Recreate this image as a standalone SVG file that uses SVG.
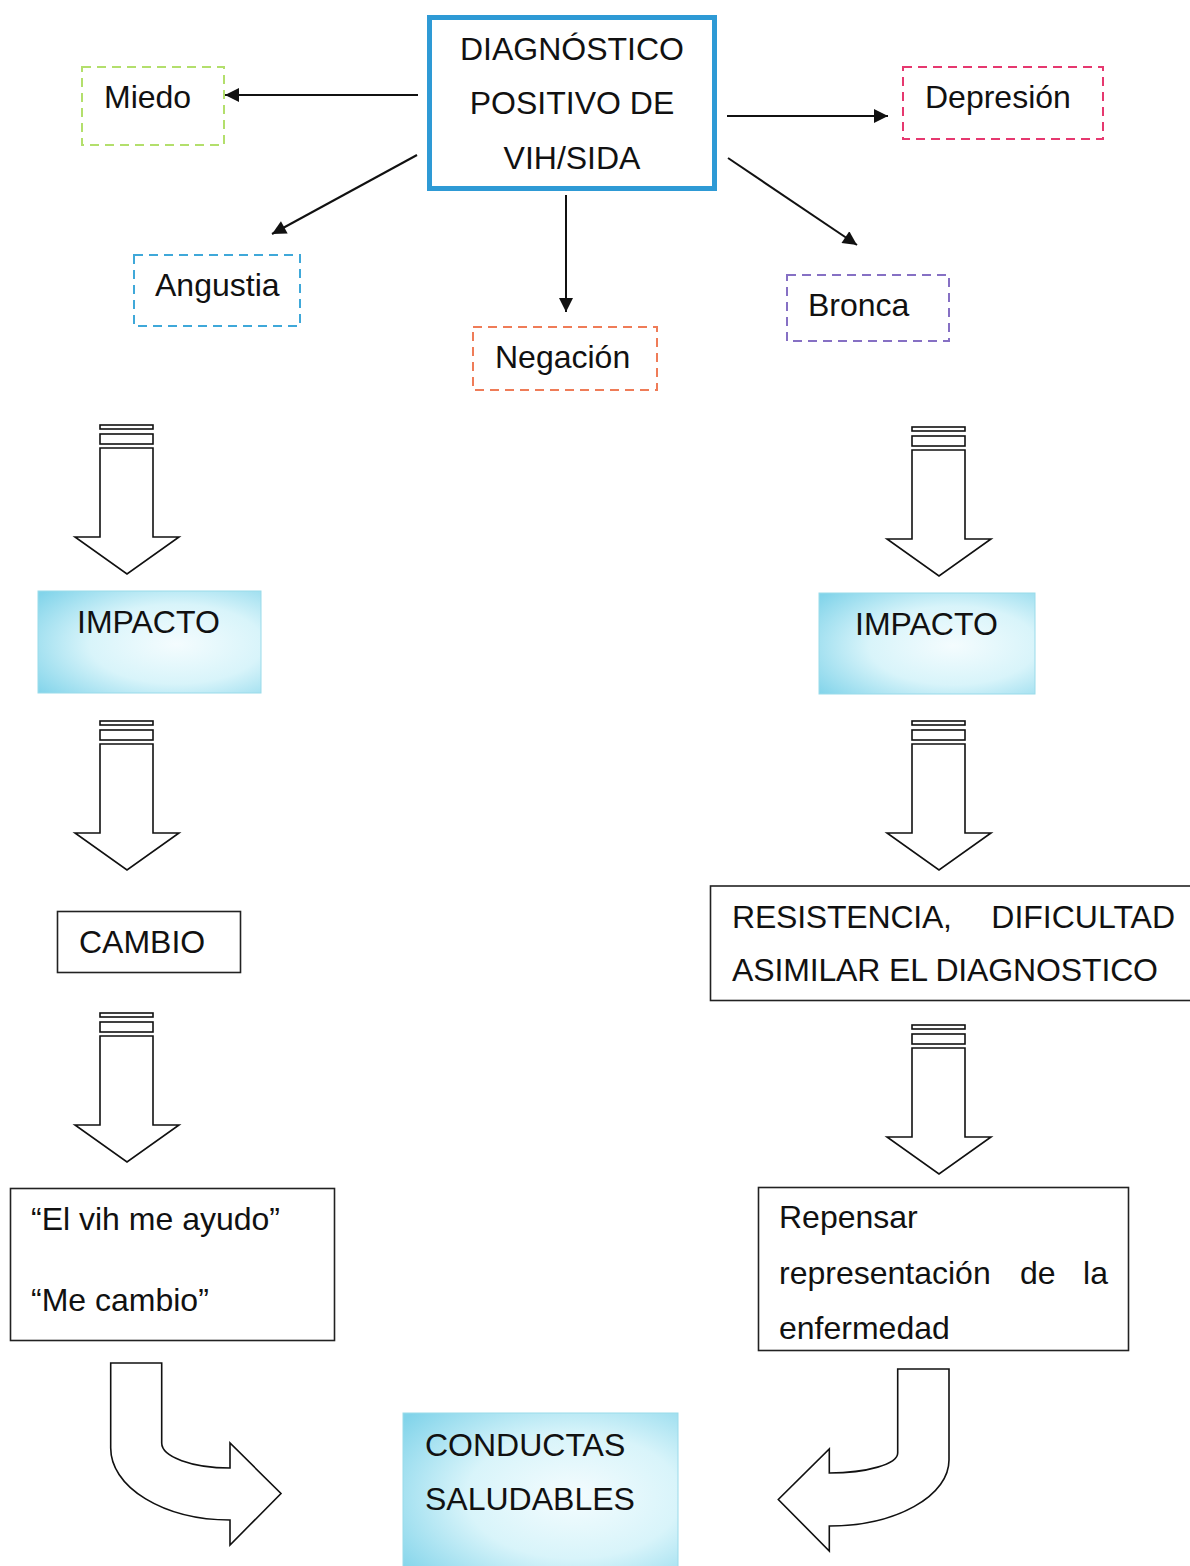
<svg xmlns="http://www.w3.org/2000/svg" xmlns:xlink="http://www.w3.org/1999/xlink" width="1190" height="1566" viewBox="0 0 1190 1566">
<style>
text{font-family:"Liberation Sans",Arial,sans-serif;font-size:32px;fill:#111;}
.c{text-anchor:middle;}
.e{text-anchor:end;}
.dash{fill:#fff;stroke-width:2;stroke-dasharray:9 6;}
.box{fill:#fff;stroke:#222;stroke-width:1.6;}
.grad{fill:url(#cyanGrad);stroke:#9adbea;stroke-width:1;}
.conn{stroke:#111;stroke-width:2;fill:none;marker-end:url(#tri);}
.blk{fill:#fff;stroke:#111;stroke-width:1.6;stroke-linejoin:miter;}
</style>
<defs>
<marker id="tri" viewBox="0 0 10 10" refX="10" refY="5" markerUnits="userSpaceOnUse" markerWidth="19" markerHeight="14" orient="auto">
<path d="M0,0 L10,5 L0,10 z" fill="#111"/>
</marker>
<radialGradient id="cyanGrad" cx="0.62" cy="0.52" r="0.78">
<stop offset="0" stop-color="#f4fcfe"/>
<stop offset="0.5" stop-color="#d8f4fa"/>
<stop offset="1" stop-color="#82d4ea"/>
</radialGradient>
<g id="blockArrow">
<rect class="blk" x="0" y="1" width="53" height="4"/>
<rect class="blk" x="0" y="10" width="53" height="10"/>
<path class="blk" d="M0,24 L53,24 L53,113 L79,113 L27,150 L-25,113 L0,113 Z"/>
</g>
</defs>
<rect width="1190" height="1566" fill="#fff"/>

<g id="connectors">
<line class="conn" x1="418" y1="95" x2="225" y2="95"/>
<line class="conn" x1="727" y1="116" x2="888" y2="116"/>
<line class="conn" x1="417" y1="155" x2="272" y2="234"/>
<line class="conn" x1="566" y1="195" x2="566" y2="312"/>
<line class="conn" x1="728" y1="158" x2="857" y2="245"/>
<use href="#blockArrow" x="100" y="424"/>
<use href="#blockArrow" x="100" y="720"/>
<use href="#blockArrow" x="100" y="1012"/>
<use href="#blockArrow" x="912" y="426"/>
<use href="#blockArrow" x="912" y="720"/>
<use href="#blockArrow" x="912" y="1024"/>
<path class="blk" d="M110.7,1363 L161.7,1363 L161.7,1443 A68.3,25 0 0 0 230,1468 L230,1443 L281,1493.5 L230,1545 L230,1520 A119.3,72 0 0 1 110.7,1448 Z"/>
<path class="blk" d="M949,1369 L897.7,1369 L897.7,1453 A68.4,20 0 0 1 829.3,1473 L829.3,1449 L778.3,1499.5 L829.3,1551 L829.3,1526 A119.7,66 0 0 0 949,1460 Z"/>
</g>

<g id="diagnostico">
<rect x="429.5" y="17.5" width="285" height="171" fill="#fff" stroke="#2e9ad5" stroke-width="5"/>
<text class="c" x="572" y="60">DIAGNÓSTICO</text>
<text class="c" x="572" y="114">POSITIVO DE</text>
<text class="c" x="572" y="169">VIH/SIDA</text>
</g>

<g id="miedo">
<rect class="dash" x="82" y="67" width="142" height="78" stroke="#b3df6c"/>
<text x="104" y="108">Miedo</text>
</g>

<g id="depresion">
<rect class="dash" x="903" y="67" width="200" height="72" stroke="#e6386f"/>
<text x="925" y="108">Depresión</text>
</g>

<g id="angustia">
<rect class="dash" x="134" y="255" width="166" height="71" stroke="#3fa8d9"/>
<text x="155" y="296">Angustia</text>
</g>

<g id="negacion">
<rect class="dash" x="473" y="327" width="184" height="63" stroke="#ef7c58"/>
<text x="495" y="368">Negación</text>
</g>

<g id="bronca">
<rect class="dash" x="787" y="275" width="162" height="66" stroke="#8670c4"/>
<text x="808" y="316">Bronca</text>
</g>

<g id="impacto-left">
<rect class="grad" x="38" y="591" width="223" height="102"/>
<text x="77" y="633">IMPACTO</text>
</g>

<g id="impacto-right">
<rect class="grad" x="819" y="593" width="216" height="101"/>
<text x="855" y="635">IMPACTO</text>
</g>

<g id="cambio">
<rect class="box" x="57.5" y="911.5" width="183" height="61"/>
<text x="79" y="953">CAMBIO</text>
</g>

<g id="resistencia">
<rect class="box" x="710.5" y="886" width="490" height="114.5"/>
<text x="732" y="928" textLength="220">RESISTENCIA,</text>
<text class="e" x="1175" y="928">DIFICULTAD</text>
<text x="732" y="981" textLength="426">ASIMILAR EL DIAGNOSTICO</text>
</g>

<g id="vih-ayudo">
<rect class="box" x="10.5" y="1188.5" width="324" height="152"/>
<text x="31" y="1230">“El vih me ayudo”</text>
<text x="31" y="1311">“Me cambio”</text>
</g>

<g id="repensar">
<rect class="box" x="758.5" y="1187.5" width="370" height="163"/>
<text x="779" y="1228">Repensar</text>
<text x="779" y="1284">representación</text>
<text x="1020" y="1284">de</text>
<text class="e" x="1108" y="1284">la</text>
<text x="779" y="1339">enfermedad</text>
</g>

<g id="conductas">
<rect class="grad" x="403" y="1413" width="275" height="160"/>
<text x="425" y="1456">CONDUCTAS</text>
<text x="425" y="1510">SALUDABLES</text>
</g>
</svg>
